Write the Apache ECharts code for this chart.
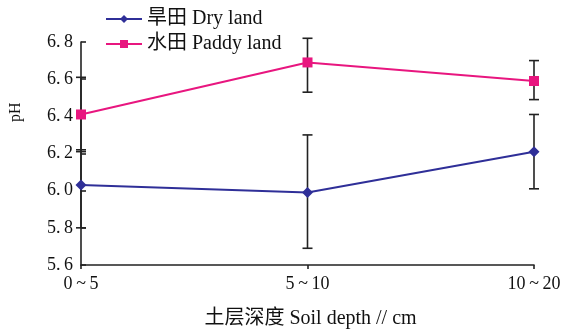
<!DOCTYPE html>
<html>
<head>
<meta charset="utf-8">
<script src="https://cdn.jsdelivr.net/npm/echarts@6/dist/echarts.min.js"></script>
<style>html,body{margin:0;padding:0;background:#fff}#c{width:564px;height:334px}</style>
</head>
<body>
<div id="c"></div>
<script>
const categories = ['0~5', '5~10', '10~20'];
const dryName = '旱田 Dry land';
const paddyName = '水田 Paddy land';
const dryMean = [6.03, 5.99, 6.21];
const dryLow = [5.80, 5.69, 6.01];
const dryHigh = [6.22, 6.30, 6.41];
const paddyMean = [6.41, 6.69, 6.59];
const paddyLow = [6.21, 6.53, 6.49];
const paddyHigh = [6.61, 6.82, 6.70];
const yTicks = [5.6, 5.8, 6.0, 6.2, 6.4, 6.6, 6.8];
const xTitle = '土层深度 Soil depth // cm';
const yTitle = 'pH';

const FONT = '"Liberation Serif", "Noto Sans CJK SC", serif';

function errData(low, high) {
  return categories.map((c, i) => [i, low[i], high[i]]);
}
function errRender(params, api) {
  const lo = api.coord([api.value(0), api.value(1)]);
  const hi = api.coord([api.value(0), api.value(2)]);
  const hw = 5;
  const st = { stroke: '#222', lineWidth: 1.6 };
  return {
    type: 'group',
    children: [
      { type: 'line', shape: { x1: lo[0], y1: lo[1], x2: hi[0], y2: hi[1] }, style: st },
      { type: 'line', shape: { x1: lo[0] - hw, y1: lo[1], x2: lo[0] + hw, y2: lo[1] }, style: st },
      { type: 'line', shape: { x1: hi[0] - hw, y1: hi[1], x2: hi[0] + hw, y2: hi[1] }, style: st }
    ]
  };
}

const chart = echarts.init(document.getElementById('c'), null, { renderer: 'canvas' });
chart.setOption({
  animation: false,
  backgroundColor: '#ffffff',
  grid: { left: 81, right: 30, top: 42, bottom: 68, containLabel: false },
  legend: {
    orient: 'vertical',
    left: 105,
    top: 9,
    padding: 0,
    itemWidth: 36,
    itemHeight: 10,
    itemGap: 5,
    textStyle: { fontFamily: FONT, fontSize: 20, color: '#111' },
    data: [dryName, paddyName]
  },
  xAxis: {
    type: 'category',
    data: categories,
    boundaryGap: false,
    axisLine: { lineStyle: { color: '#222', width: 1.6 } },
    axisTick: { show: true, length: 4, lineStyle: { color: '#222', width: 1.6 } },
    axisLabel: {
      fontFamily: FONT, fontSize: 18, color: '#111', margin: 10,
      formatter: v => v.replace('~', '\u2009~\u2009')
    },
    name: xTitle,
    nameLocation: 'middle',
    nameGap: 44,
    nameTextStyle: { fontFamily: FONT, fontSize: 20, color: '#111', padding: [0, 0, 0, 6] }
  },
  yAxis: {
    type: 'value',
    min: 5.6,
    max: 6.8,
    interval: 0.2,
    splitLine: { show: false },
    axisLine: { show: true, lineStyle: { color: '#222', width: 1.6 } },
    axisTick: { show: true, inside: true, length: 5, lineStyle: { color: '#222', width: 1.6 } },
    axisLabel: {
      fontFamily: FONT, fontSize: 18, color: '#111', margin: 8,
      formatter: v => yTicks.some(t => Math.abs(t - v) < 1e-6) ? v.toFixed(1).replace('.', '.\u2009') : ''
    }
  },
  graphic: [{
    type: 'text',
    x: 8,
    y: 122,
    rotation: Math.PI / 2,
    style: { text: yTitle, font: '16px ' + FONT, fill: '#111' }
  }],
  series: [
    {
      type: 'custom', name: 'dryErr', renderItem: errRender, data: errData(dryLow, dryHigh),
      encode: { x: 0, y: [1, 2] }, z: 1, silent: true
    },
    {
      type: 'custom', name: 'paddyErr', renderItem: errRender, data: errData(paddyLow, paddyHigh),
      encode: { x: 0, y: [1, 2] }, z: 1, silent: true
    },
    {
      name: dryName, type: 'line', data: dryMean, symbol: 'diamond', symbolSize: 11,
      lineStyle: { color: '#2f2f98', width: 2 }, itemStyle: { color: '#2f2f98' }, z: 3
    },
    {
      name: paddyName, type: 'line', data: paddyMean, symbol: 'rect', symbolSize: 10,
      lineStyle: { color: '#e8167f', width: 2 }, itemStyle: { color: '#e8167f' }, z: 3
    }
  ]
});
</script>
</body>
</html>
